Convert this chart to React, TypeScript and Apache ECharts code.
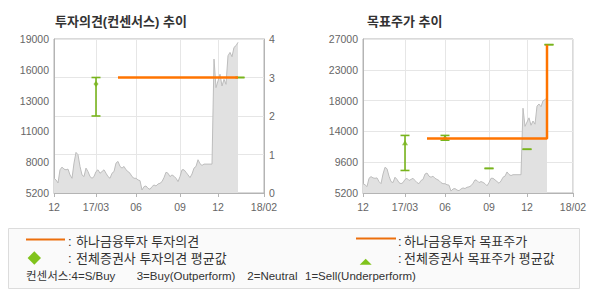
import React, { useEffect, useRef } from 'react';
import * as echarts from 'echarts';

// ---- x axis: evenly spaced time slots, month ticks at given slots ----
const SLOT_COUNT = 106;
const slots = Array.from({ length: SLOT_COUNT }, (_, i) => String(i));
const tickSlots = [0, 21, 41, 63, 82, 105];
const tickLabels = ['12', '17/03', '06', '09', '12', '18/02'];

// ---- y tick labels ----
const priceLeftTicks = ['5200', '8000', '11000', '13000', '16000', '19000'];
const priceRightTicks = ['5200', '9600', '14000', '18000', '23000', '27000'];
const opinionTicks = ['0', '1', '2', '3', '4'];

// ---- stock price (one value per slot) ----
const price = [
  6520, 6370, 6100, 7280, 7520, 7340, 7280, 7340, 6820, 6520,
  7880, 8840, 8630, 7580, 6820, 6670, 7430, 7120, 6670, 6520,
  6670, 7120, 7280, 6970, 7120, 7280, 6970, 6670, 6520, 6970,
  7120, 7880, 8030, 7580, 7430, 7580, 7280, 7120, 6970, 6670,
  6520, 6520, 6370, 6310, 5470, 5770, 5830, 5620, 5530, 5770,
  5920, 5830, 6010, 6070, 6220, 6580, 7060, 6970, 6670, 6820,
  6700, 6520, 6220, 6670, 7280, 7280, 7060, 6820, 6580, 6900,
  7430, 7580, 8180, 7820, 7670, 7790, 7790, 7790, 7790, 7790,
  17200, 14640, 15240, 15840, 14790, 15390, 14940, 17500, 17800, 17410,
  18250, 18400, 18700,
];

// ---- 하나금융투자 투자의견 / 목표주가 ----
const opinionSlots = [32, 92];
const opinionValues = [3, 3];
const targetSlots = [32, 92];
const targetValues = [12900, 26200];

// ---- 전체증권사 consensus (range + mean) ----
const consOpSlots = [21, 93];
const consOpLow = [2, 3];
const consOpHigh = [3, 3];
const consOpMean = [2.83, null];

const consTpSlots = [21, 41, 63, 82, 93];
const consTpLow = [8390, 12670, 8680, 11390, 26200];
const consTpHigh = [13350, 13350, 8680, 11390, 26200];
const consTpMean = [12330, 13100, null, null, null];

const ORANGE = '#ff7400';
const GREEN = '#78b41c';
const LEG_ORANGE = '#ec6f0c';
const LEG_GREEN = '#80c31c';
const AXIS = '#b4b4b4';
const GRID = '#e6e6e6';
const LABEL = '#666';
const NUM_FONT = '"Liberation Sans", Arial, sans-serif';
const KR_FONT = '"Liberation Sans", "Noto Sans CJK KR", sans-serif';

const isTick = (i: number) => tickSlots.includes(i);

const xAxisCfg = (gridIndex: number) => ({
  type: 'category',
  gridIndex,
  data: slots,
  boundaryGap: false,
  axisLine: { show: true, lineStyle: { color: AXIS } },
  axisTick: { show: true, length: 4, interval: (i: number) => isTick(i), lineStyle: { color: AXIS } },
  axisLabel: {
    interval: (i: number) => isTick(i),
    formatter: (v: string) => tickLabels[tickSlots.indexOf(Number(v))] ?? '',
    color: LABEL,
    fontSize: 10.5,
    fontFamily: NUM_FONT,
    margin: 8,
  },
  splitLine: { show: true, interval: (i: number) => isTick(i), lineStyle: { color: GRID } },
});

const priceAxis = (gridIndex: number, min: number, max: number, labels: string[], split: boolean) => {
  const interval = (max - min) / (labels.length - 1);
  return {
    type: 'value',
    gridIndex,
    min,
    max,
    interval,
    position: 'left',
    axisLine: { show: true, lineStyle: { color: AXIS } },
    axisTick: { show: false },
    axisLabel: {
      color: LABEL,
      fontSize: 10.5,
      fontFamily: NUM_FONT,
      margin: 5,
      formatter: (v: number) => labels[Math.round((v - min) / interval)] ?? '',
    },
    splitLine: { show: split, lineStyle: { color: GRID } },
  };
};

const priceSeries = (xAxisIndex: number, yAxisIndex: number) => ({
  type: 'line',
  xAxisIndex,
  yAxisIndex,
  data: price,
  showSymbol: false,
  symbol: 'none',
  lineStyle: { color: '#bdbdbd', width: 1 },
  areaStyle: { color: '#e1e1e1', opacity: 1 },
  z: 1,
});

const errorBar = (xAxisIndex: number, yAxisIndex: number, s: number[], lo: number[], hi: number[]) => ({
  type: 'custom',
  xAxisIndex,
  yAxisIndex,
  z: 3,
  encode: { x: 0, y: [1, 2] },
  data: s.map((x, i) => [x, lo[i], hi[i]]),
  renderItem: (_p: any, api: any) => {
    const x = api.value(0);
    const a = api.coord([x, api.value(1)]);
    const b = api.coord([x, api.value(2)]);
    const hw = 4.5;
    const style = { stroke: GREEN, lineWidth: 1.6 };
    return {
      type: 'group',
      children: [
        { type: 'line', shape: { x1: a[0], y1: a[1], x2: b[0], y2: b[1] }, style },
        { type: 'line', shape: { x1: a[0] - hw, y1: a[1], x2: a[0] + hw, y2: a[1] }, style },
        { type: 'line', shape: { x1: b[0] - hw, y1: b[1], x2: b[0] + hw, y2: b[1] }, style },
      ],
    };
  },
});

const meanSeries = (xAxisIndex: number, yAxisIndex: number, s: number[], m: (number | null)[], symbol: string, size: number[]) => ({
  type: 'scatter',
  xAxisIndex,
  yAxisIndex,
  z: 4,
  symbol,
  symbolSize: size,
  itemStyle: { color: GREEN },
  data: s.map((x, i) => (m[i] == null ? null : [x, m[i]])).filter((d) => d) as number[][],
});

const txt = (text: string, x: number, y: number, size: number, extra: any = {}) => ({
  type: 'text',
  x,
  y,
  style: {
    text,
    fill: extra.fill ?? '#333',
    font: `${extra.bold ? 'bold ' : ''}${size}px ${extra.family ?? KR_FONT}`,
    lineHeight: size + 1,
    align: 'left',
    verticalAlign: 'middle',
    textAlign: 'left',
    textVerticalAlign: 'middle',
  },
});

const option: any = {
  animation: false,
  backgroundColor: '#fff',
  grid: [
    { left: 54, top: 39, width: 210, height: 154, show: true, borderColor: AXIS, borderWidth: 1, backgroundColor: 'transparent' },
    { left: 363, top: 39, width: 210, height: 154, show: true, borderColor: AXIS, borderWidth: 1, backgroundColor: 'transparent' },
  ],
  xAxis: [xAxisCfg(0), xAxisCfg(1)],
  yAxis: [
    priceAxis(0, 5200, 19000, priceLeftTicks, false),
    {
      type: 'value',
      gridIndex: 0,
      position: 'right',
      min: 0,
      max: 4,
      interval: 1,
      axisLine: { show: true, lineStyle: { color: AXIS } },
      axisTick: { show: false },
      axisLabel: {
        color: LABEL,
        fontSize: 10.5,
        fontFamily: NUM_FONT,
        margin: 5,
        formatter: (v: number) => opinionTicks[Math.round(v)] ?? '',
      },
      splitLine: { show: true, lineStyle: { color: GRID } },
    },
    priceAxis(1, 5200, 27000, priceRightTicks, true),
  ],
  series: [
    priceSeries(0, 0),
    errorBar(0, 1, consOpSlots, consOpLow, consOpHigh),
    meanSeries(0, 1, consOpSlots, consOpMean, 'diamond', [5, 6]),
    {
      type: 'line',
      xAxisIndex: 0,
      yAxisIndex: 1,
      data: opinionSlots.map((s, i) => [s, opinionValues[i]]),
      showSymbol: false,
      symbol: 'none',
      step: 'end',
      lineStyle: { color: ORANGE, width: 2.5 },
      z: 5,
    },
    priceSeries(1, 2),
    errorBar(1, 2, consTpSlots, consTpLow, consTpHigh),
    meanSeries(1, 2, consTpSlots, consTpMean, 'triangle', [6, 5]),
    {
      type: 'line',
      xAxisIndex: 1,
      yAxisIndex: 2,
      data: targetSlots.map((s, i) => [s, targetValues[i]]),
      showSymbol: false,
      symbol: 'none',
      step: 'end',
      lineStyle: { color: ORANGE, width: 2.5 },
      z: 5,
    },
  ],
  graphic: [
    txt('투자의견(컨센서스) 추이', 55, 21, 13, { bold: true }),
    txt('목표주가 추이', 367, 21, 13, { bold: true }),
    {
      type: 'rect',
      shape: { x: 8.5, y: 228.5, width: 571, height: 60 },
      style: { fill: '#fafafa', stroke: '#dcdcdc', lineWidth: 1 },
      z: -1,
    },
    { type: 'line', shape: { x1: 26, y1: 239.5, x2: 65, y2: 239.5 }, style: { stroke: LEG_ORANGE, lineWidth: 2 } },
    txt(':', 68, 241, 13),
    txt('하나금융투자 투자의견', 76, 241, 13),
    {
      type: 'polygon',
      shape: { points: [[34.3, 251.3], [41, 258], [34.3, 264.7], [27.6, 258]] },
      style: { fill: LEG_GREEN },
    },
    txt(':', 68, 258, 13),
    txt('전체증권사 투자의견 평균값', 76, 258, 13),
    { type: 'line', shape: { x1: 356, y1: 238.5, x2: 396, y2: 238.5 }, style: { stroke: LEG_ORANGE, lineWidth: 2 } },
    txt(':', 398, 241, 13),
    txt('하나금융투자 목표주가', 404, 241, 13),
    {
      type: 'polygon',
      shape: { points: [[365.7, 258.7], [371.7, 264.7], [359.7, 264.7]] },
      style: { fill: LEG_GREEN },
    },
    txt(':', 398, 258, 13),
    txt('전체증권사 목표주가 평균값', 404, 258, 13),
    txt('컨센서스:4=S/Buy', 26, 276, 11.5),
    txt('3=Buy(Outperform)', 136.7, 276, 11.5),
    txt('2=Neutral', 247.3, 276, 11.5),
    txt('1=Sell(Underperform)', 305, 276, 11.5),
  ],
};

export default function App() {
  const ref = useRef<HTMLDivElement>(null);
  useEffect(() => {
    const chart = echarts.init(ref.current!, null, { renderer: 'svg' });
    chart.setOption(option);
    return () => chart.dispose();
  }, []);
  return (
    <div
      ref={ref}
      style={{ position: 'fixed', left: 0, top: 0, width: 590, height: 300, background: '#fff' }}
    />
  );
}
